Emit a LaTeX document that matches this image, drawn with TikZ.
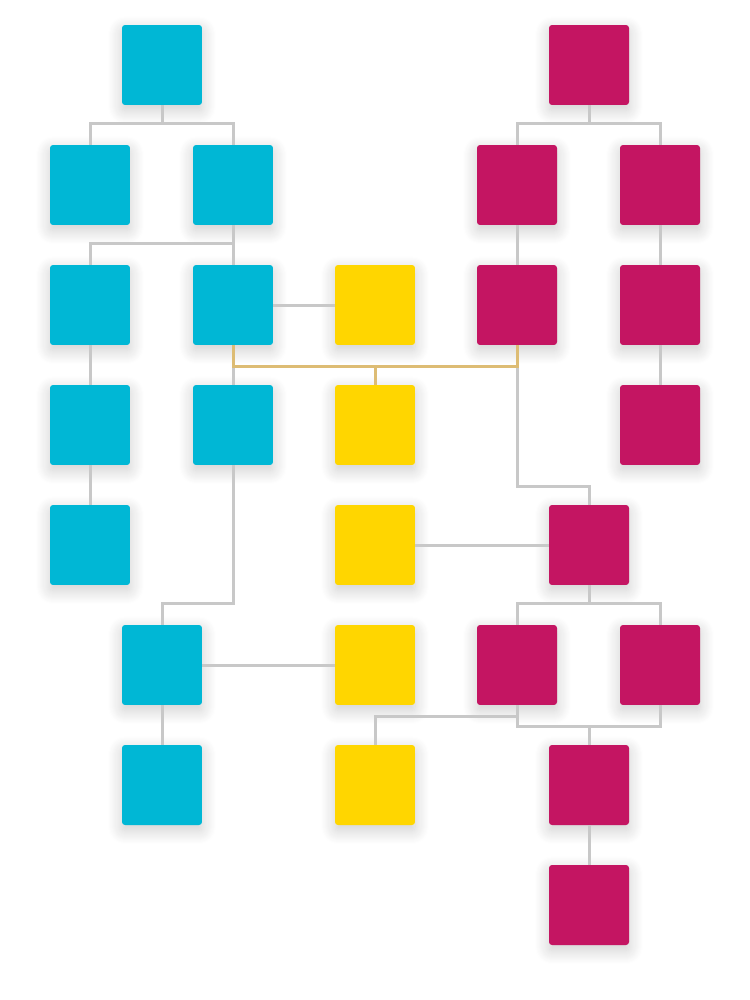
\documentclass[tikz,border=0pt]{standalone}
\usetikzlibrary{shadows.blur}

\definecolor{tileblue}{HTML}{00B7D5}
\definecolor{tilegold}{HTML}{FFD600}
\definecolor{tilerose}{HTML}{C41562}
\definecolor{linkgray}{HTML}{C8C8C8}
\definecolor{linkgold}{HTML}{DDBC74}

\tikzset{
  tile/.style={minimum size=1.6cm, inner sep=0pt, rounded corners=0.06cm,
    blur shadow={shadow xshift=0pt, shadow yshift=-3pt, shadow blur radius=8pt,
      shadow blur steps=14, shadow opacity=20}},
  bluetile/.style={tile, fill=tileblue},
  goldtile/.style={tile, fill=tilegold},
  rosetile/.style={tile, fill=tilerose},
  link/.style={draw=linkgray, line width=0.06cm},
  goldlink/.style={draw=linkgold, line width=0.06cm}
}

\begin{document}
\begin{tikzpicture}[x=0.02cm, y=-0.02cm]
    \useasboundingbox (0,0) rectangle (750,1000);

    % blue tree
    \node[bluetile] (b1) at (162,65) {};
    \node[bluetile] (b2) at (90,185) {};
    \node[bluetile] (b3) at (233,185) {};
    \node[bluetile] (b4) at (90,305) {};
    \node[bluetile] (b5) at (233,305) {};
    \node[bluetile] (b6) at (90,425) {};
    \node[bluetile] (b7) at (233,425) {};
    \node[bluetile] (b8) at (90,545) {};
    \node[bluetile] (b9) at (162,665) {};
    \node[bluetile] (b10) at (162,785) {};

    % yellow column
    \node[goldtile] (y1) at (375,305) {};
    \node[goldtile] (y2) at (375,425) {};
    \node[goldtile] (y3) at (375,545) {};
    \node[goldtile] (y4) at (375,665) {};
    \node[goldtile] (y5) at (375,785) {};

    % magenta tree
    \node[rosetile] (m1) at (589,65) {};
    \node[rosetile] (m2) at (517,185) {};
    \node[rosetile] (m3) at (660,185) {};
    \node[rosetile] (m4) at (517,305) {};
    \node[rosetile] (m5) at (660,305) {};
    \node[rosetile] (m6) at (660,425) {};
    \node[rosetile] (m7) at (589,545) {};
    \node[rosetile] (m8) at (517,665) {};
    \node[rosetile] (m9) at (660,665) {};
    \node[rosetile] (m10) at (589,785) {};
    \node[rosetile] (m11) at (589,905) {};

    % links
    \draw[link] (b1.south) -- ++(0,18) -| (b2.north);
    \draw[link] (b1.south) -- ++(0,18) -| (b3.north);
    \draw[link] (b3.south) -- ++(0,18) -| (b4.north);
    \draw[link] (b3.south) -- (b5.north);
    \draw[link] (b5.east) -- (y1.west);
    \draw[link] (b4.south) -- (b6.north);
    \draw[link] (b6.south) -- (b8.north);
    \draw[link] (b5.south) -- (b7.north);
    \draw[link] (b7.south) -- ++(0,138) -| (b9.north);
    \draw[link] (b9.east) -- (y4.west);
    \draw[link] (b9.south) -- (b10.north);

    \draw[link] (m1.south) -- ++(0,18) -| (m2.north);
    \draw[link] (m1.south) -- ++(0,18) -| (m3.north);
    \draw[link] (m2.south) -- (m4.north);
    \draw[link] (m3.south) -- (m5.north);
    \draw[link] (m5.south) -- (m6.north);
    \draw[link] (m4.south) -- ++(0,141) -| (m7.north);
    \draw[link] (y3.east) -- (m7.west);
    \draw[link] (m7.south) -- ++(0,18) -| (m8.north);
    \draw[link] (m7.south) -- ++(0,18) -| (m9.north);
    \draw[link] (m8.south) -- ++(0,21) -| (m9.south);
    \draw[link] (m10.north) -- ++(0,-19);
    \draw[link] (m8.south) -- ++(0,11) -| (y5.north);
    \draw[link] (m10.south) -- (m11.north);

    % gold bridge
    \draw[goldlink] (b5.south) -- ++(0,21) -| (m4.south);
    \draw[goldlink] (y2.north) -- ++(0,-19);
\end{tikzpicture}
\end{document}
